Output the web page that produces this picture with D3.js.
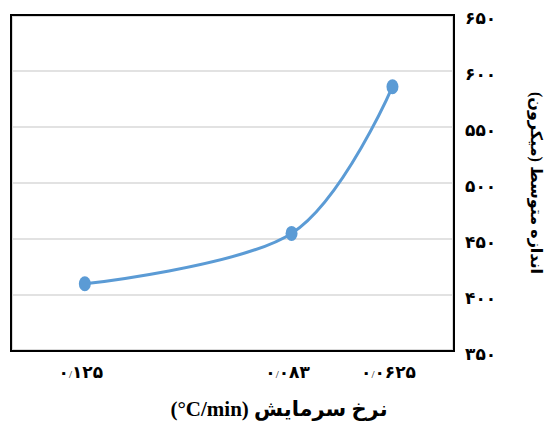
<!DOCTYPE html>
<html>
<head>
<meta charset="utf-8">
<script src="https://cdn.jsdelivr.net/npm/d3@7"></script>
<style>
  html, body { margin: 0; padding: 0; background: #ffffff; }
  svg { display: block; }
</style>
</head>
<body>
<div id="chart"></div>
<script>
// ---- data ----
const coolingRates = [0.125, 0.083, 0.0625];          // x values (°C/min)
const xTickLabels = ["۰/۱۲۵", "۰/۰۸۳", "۰/۰۶۲۵"];     // x tick labels
const meanSize = [410, 455, 586];                      // mean size (micron)
const yTicks = [350, 400, 450, 500, 550, 600, 650];
const yTickLabels = ["۳۵۰", "۴۰۰", "۴۵۰", "۵۰۰", "۵۵۰", "۶۰۰", "۶۵۰"];
const xTitle = "نرخ سرمایش \u200E(°C/min)\u200E";
const yTitle = "اندازه متوسط (میکرون)";

// ---- layout ----
const W = 558, H = 423;
const plot = { left: 11, right: 454, top: 15, bottom: 351 };
const fontFam = "'Liberation Serif', 'DejaVu Sans', serif";

const svg = d3.select("#chart").append("svg")
  .attr("width", W).attr("height", H);

const x = d3.scaleLinear().domain([0.14, 0.05]).range([plot.left, plot.right]);
const y = d3.scaleLinear().domain([350, 650]).range([plot.bottom, plot.top]);

// gridlines
svg.append("g").selectAll("line")
  .data(yTicks.filter(v => v > 350 && v < 650))
  .join("line")
  .attr("x1", plot.left + 1).attr("x2", plot.right - 2)
  .attr("y1", d => y(d)).attr("y2", d => y(d))
  .attr("stroke", "#d9d9d9").attr("stroke-width", 1.5);

// inner light border
svg.append("rect")
  .attr("x", plot.left + 1.5).attr("y", plot.top + 1.5)
  .attr("width", plot.right - plot.left - 3).attr("height", plot.bottom - plot.top - 3)
  .attr("fill", "none").attr("stroke", "#d9d9d9").attr("stroke-width", 1);

// outer black frame
svg.append("rect")
  .attr("x", plot.left).attr("y", plot.top)
  .attr("width", plot.right - plot.left).attr("height", plot.bottom - plot.top)
  .attr("fill", "none").attr("stroke", "#000").attr("stroke-width", 2);

// y tick labels (right side)
svg.append("g").selectAll("text")
  .data(yTicks)
  .join("text")
  .attr("x", plot.right + 11)
  .attr("y", d => y(d) + 3)
  .attr("dominant-baseline", "central")
  .attr("text-anchor", "start")
  .attr("font-family", fontFam)
  .attr("font-weight", "bold")
  .attr("font-size", 17)
  .attr("fill", "#000")
  .text((d, i) => yTickLabels[i]);

// x tick labels (slash drawn smaller, like the decimal mark in the reference)
const xt = svg.append("g").selectAll("text")
  .data(coolingRates)
  .join("text")
  .attr("x", d => x(d) - 4)
  .attr("y", 378)
  .attr("text-anchor", "middle")
  .attr("font-family", fontFam)
  .attr("font-weight", "bold")
  .attr("font-size", 17)
  .attr("fill", "#000");
xt.each(function(d, i) {
  const parts = xTickLabels[i].split("/");
  const t = d3.select(this);
  t.append("tspan").text(parts[0]);
  t.append("tspan").attr("font-size", 11).attr("font-weight", "normal").text("/");
  t.append("tspan").text(parts[1]);
});

// line
const pts = coolingRates.map((c, i) => [x(c), y(meanSize[i])]);
svg.append("path")
  .datum(pts)
  .attr("d", d3.line().curve(d3.curveCardinal.tension(0)))
  .attr("fill", "none")
  .attr("stroke", "#5b9bd5")
  .attr("stroke-width", 3)
  .attr("stroke-linecap", "round");

// markers
svg.append("g").selectAll("ellipse")
  .data(pts)
  .join("ellipse")
  .attr("cx", d => d[0]).attr("cy", d => d[1])
  .attr("rx", 6).attr("ry", 7.5)
  .attr("fill", "#5b9bd5");

// x title
svg.append("text")
  .attr("x", 279).attr("y", 416)
  .attr("text-anchor", "middle")
  .attr("direction", "rtl")
  .attr("font-family", fontFam)
  .attr("font-weight", "bold")
  .attr("font-size", 21)
  .attr("fill", "#000")
  .text(xTitle);

// y title (rotated clockwise)
svg.append("text")
  .attr("transform", "translate(536,183) rotate(90)")
  .attr("text-anchor", "middle")
  .attr("dominant-baseline", "central")
  .attr("direction", "rtl")
  .attr("font-family", fontFam)
  .attr("font-weight", "bold")
  .attr("font-size", 16)
  .attr("fill", "#000")
  .text(yTitle);
</script>
</body>
</html>
